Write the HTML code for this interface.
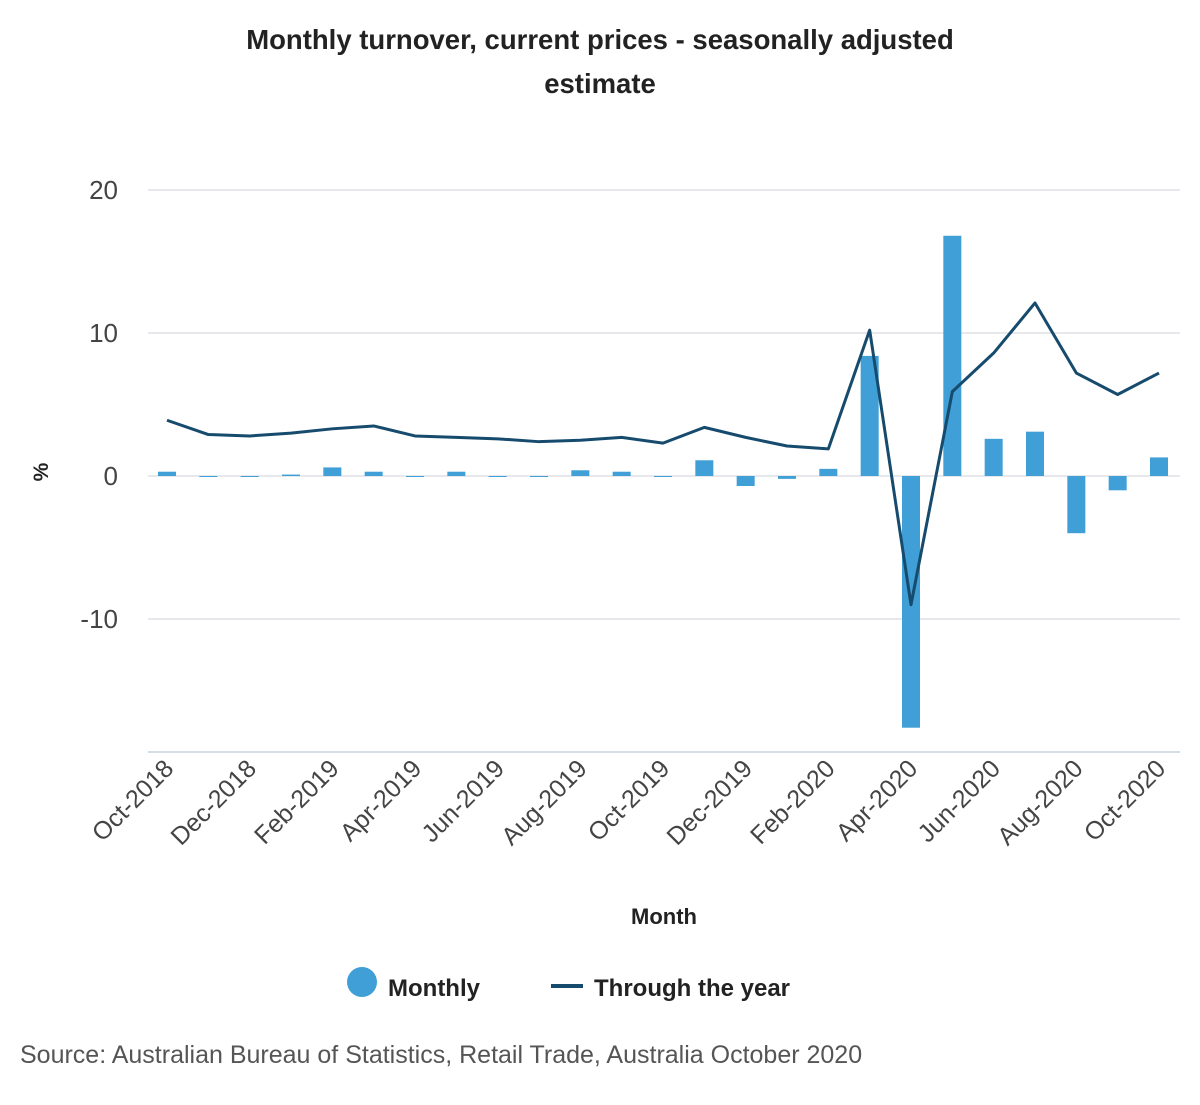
<!DOCTYPE html>
<html><head><meta charset="utf-8"><style>
body{margin:0;background:#fff;width:1200px;height:1100px;overflow:hidden;font-family:"Liberation Sans",Arial,sans-serif;}
svg text{font-family:"Liberation Sans",Arial,sans-serif;}
</style></head><body>
<svg id="chart" width="1200" height="1100">
<text x="600" y="49" text-anchor="middle" font-size="27.5" font-weight="bold" fill="#222">Monthly turnover, current prices - seasonally adjusted</text>
<text x="600" y="93" text-anchor="middle" font-size="27.5" font-weight="bold" fill="#222">estimate</text>
<g id="grid"></g>
<g id="bars"></g>
<g id="line"></g>
<g id="xaxis"></g>
<text x="48" y="472" transform="rotate(-90 48 472)" text-anchor="middle" font-size="21" font-weight="bold" fill="#222">%</text>
<text x="664" y="924" text-anchor="middle" font-size="22" font-weight="bold" fill="#222">Month</text>
<g><circle cx="362" cy="982" r="15" fill="#3f9fd6"/><text x="388" y="996" font-size="24" font-weight="bold" fill="#222">Monthly</text></g>
<g><line x1="551" y1="986" x2="583" y2="986" stroke="#164b6e" stroke-width="4"/><text x="594" y="996" font-size="24" font-weight="bold" fill="#222">Through the year</text></g>
<text x="20" y="1063" font-size="25" fill="#555">Source: Australian Bureau of Statistics, Retail Trade, Australia October 2020</text>
</svg>
<script>
const months=["Oct-2018","Nov-2018","Dec-2018","Jan-2019","Feb-2019","Mar-2019","Apr-2019","May-2019","Jun-2019","Jul-2019","Aug-2019","Sep-2019","Oct-2019","Nov-2019","Dec-2019","Jan-2020","Feb-2020","Mar-2020","Apr-2020","May-2020","Jun-2020","Jul-2020","Aug-2020","Sep-2020","Oct-2020"];
const monthly=[0.3,0,0,0.1,0.6,0.3,0,0.3,0,0,0.4,0.3,0,1.1,-0.7,-0.2,0.5,8.4,-17.6,16.8,2.6,3.1,-4.0,-1.0,1.3];
const throughYear=[3.9,2.9,2.8,3.0,3.3,3.5,2.8,2.7,2.6,2.4,2.5,2.7,2.3,3.4,2.7,2.1,1.9,10.2,-9.0,5.9,8.6,12.1,7.2,5.7,7.2];
const yTicks=[20,10,0,-10];
const yMin=-19.3,yMax=20;
const ns="http://www.w3.org/2000/svg";
const plotL=148,plotR=1180,plotTop=190,plotBot=752;
function y(v){return plotTop+(yMax-v)/(yMax-yMin)*(plotBot-plotTop);}
function x(i){return 167+i*(1159-167)/(months.length-1);}
function mk(t,a,p){const e=document.createElementNS(ns,t);for(const k in a)e.setAttribute(k,a[k]);p.appendChild(e);return e;}
const grid=document.getElementById('grid');
yTicks.forEach(v=>{
 const l=mk('line',{x1:plotL,x2:plotR,y1:y(v),y2:y(v),stroke:'#dde1e6','stroke-width':1.5},grid);
 
 
 const t=mk('text',{x:118,y:y(v)+9,'text-anchor':'end','font-size':26,fill:'#444'},grid);
 t.textContent=v;
 
 
});
const ax=mk('line',{x1:plotL,x2:plotR,y1:plotBot,y2:plotBot,stroke:'#c6d2e0','stroke-width':1.5},grid);


const bars=document.getElementById('bars');
monthly.forEach((v,i)=>{
 const top=Math.min(y(v),y(0)),h=Math.max(Math.abs(y(v)-y(0)),1);
 const r=mk('rect',{x:x(i)-9,y:top,width:18,height:h,fill:'#3f9fd6'},bars);
 
 
});
const line=document.getElementById('line');
const p=mk('polyline',{points:throughYear.map((v,i)=>x(i)+','+y(v)).join(' '),fill:'none',stroke:'#164b6e','stroke-width':3,'stroke-linejoin':'round'},line);


const xa=document.getElementById('xaxis');
months.forEach((m,i)=>{
 if(i%2)return;
 const t=mk('text',{x:x(i)+8,y:770,'text-anchor':'end','font-size':25,fill:'#444',transform:`rotate(-45 ${x(i)+8} 770)`},xa);
 t.textContent=m;
 
 
});
</script>
</body></html>
